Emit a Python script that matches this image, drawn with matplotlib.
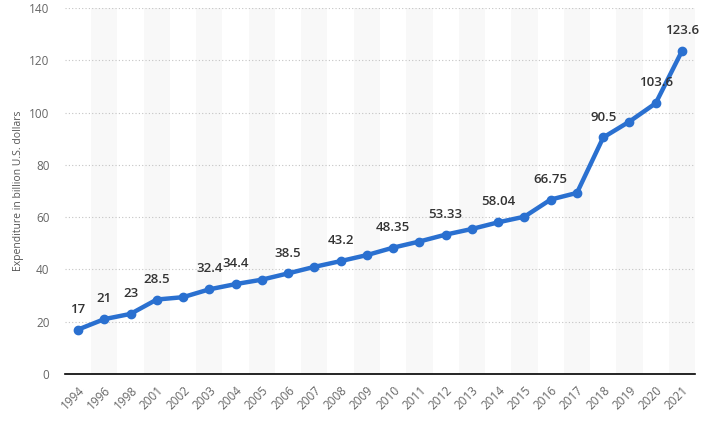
import numpy as np
import matplotlib
matplotlib.use("Agg")
from matplotlib import pyplot as plt

plt.rcParams['font.family'] = ['Open Sans', 'DejaVu Sans']

years = ['1994', '1996', '1998', '2001', '2002', '2003', '2004', '2005', '2006',
         '2007', '2008', '2009', '2010', '2011', '2012', '2013', '2014', '2015',
         '2016', '2017', '2018', '2019', '2020', '2021']
spend = [17, 21, 23, 28.5, 29.4, 32.4, 34.4, 36.1, 38.5, 41.0, 43.2, 45.5, 48.35,
         50.7, 53.33, 55.5, 58.04, 60.2, 66.75, 69.3, 90.5, 96.6, 103.6, 123.6]
labeled = [0, 1, 2, 3, 5, 6, 8, 10, 12, 14, 16, 18, 20, 22, 23]
label_txt = {18: '66.75'}

fig = plt.figure(figsize=(7.05, 4.26), dpi=100)
ax = fig.add_axes([0.092, 0.122, 0.894, 0.859])

x = np.arange(len(years))

# alternating background bands
for i in x:
    if i % 2 == 1:
        ax.axvspan(i - 0.5, i + 0.5, color='#f8f8f8', zorder=0, lw=0)

ax.set_ylim(0, 140)
ax.set_xlim(-0.5, len(years) - 0.5)
ax.set_yticks(range(0, 141, 20))
ax.yaxis.grid(True, linestyle=(0, (1, 2)), color='#c4c4c4', linewidth=0.8)
ax.set_axisbelow(True)

ax.plot(x, spend, color='#2a70d0', linewidth=3.2, marker='o', markersize=6,
        solid_capstyle='round', zorder=3)

for i in labeled:
    txt = label_txt.get(i, f'{spend[i]:g}')
    ax.annotate(txt, (x[i], spend[i]), xytext=(0, 10), textcoords='offset points',
                ha='center', va='bottom', fontsize=9.5, color='#333333',
                fontweight='semibold')

ax.set_xticks(x)
ax.set_xticklabels(years, rotation=45, ha='right', rotation_mode='anchor',
                   fontsize=8.5, color='#666666')
ax.tick_params(axis='y', labelsize=8.5, labelcolor='#666666', length=0, pad=11)
ax.tick_params(axis='x', length=0, pad=7)

for s in ['top', 'right', 'left']:
    ax.spines[s].set_visible(False)
ax.spines['bottom'].set_color('#000000')
ax.spines['bottom'].set_linewidth(1.2)

ax.set_ylabel('Expenditure in billion U.S. dollars', fontsize=7.5, color='#555555',
              labelpad=4)

fig.savefig('out.png', dpi=100)
